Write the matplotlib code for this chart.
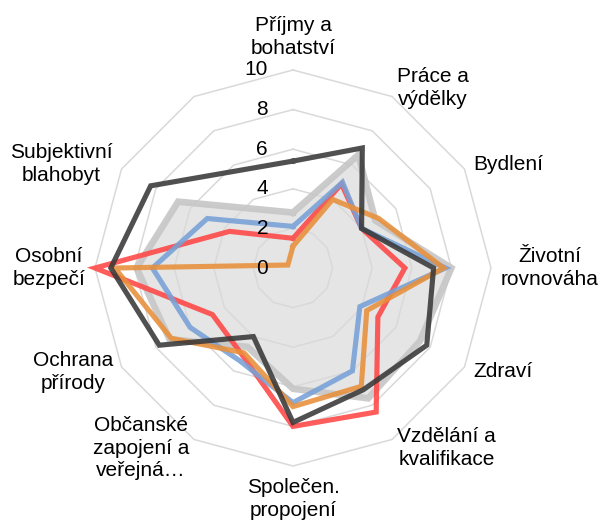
import numpy as np
import matplotlib
matplotlib.use("Agg")
import matplotlib.pyplot as plt
from matplotlib.transforms import ScaledTranslation

plt.rcParams['font.family'] = ['Liberation Sans', 'DejaVu Sans']

# 12 angular slots (Excel radar with one empty category at the end)
categories = ["Příjmy a\nbohatství", "Práce a\nvýdělky", "Bydlení", "Životní\nrovnováha",
              "Zdraví", "Vzdělání a\nkvalifikace", "Společen.\npropojení",
              "Občanské\nzapojení a\nveřejná…", "Ochrana\npřírody", "Osobní\nbezpečí",
              "Subjektivní\nblahobyt", ""]

gray_vals   = [2.8, 6.6, 4.8, 8.0, 7.4, 7.6, 6.1, 4.6, 7.2, 7.9, 6.7]
red_vals    = [1.5, 4.9, 4.0, 5.65, 4.95, 8.4, 8.0, 5.1, 4.7, 10.0, 3.7]
blue_vals   = [2.1, 5.0, 4.0, 7.7, 3.9, 6.0, 6.8, 5.4, 6.0, 7.1, 5.0]
orange_vals = [1.1, 4.0, 5.0, 7.6, 4.3, 6.9, 7.0, 4.95, 7.1, 9.0, 0.3]
black_vals  = [5.4, 7.0, 4.0, 7.1, 7.8, 7.1, 7.8, 4.0, 7.8, 9.2, 8.3]

ticks = [0, 2, 4, 6, 8, 10]

n_slots = len(categories)
slot_angles = np.arange(n_slots) * 2 * np.pi / n_slots

fig = plt.figure(figsize=(6.0, 5.23), dpi=100)
ax = fig.add_axes([95/600, 57/523, 396/600, 396/523], projection='polar')
ax.set_theta_zero_location('N')
ax.set_theta_direction(-1)
ax.set_ylim(0, 10)
ax.grid(False)
ax.spines['polar'].set_visible(False)
ax.set_xticks([])
ax.set_yticks([])
ax.patch.set_visible(False)

# polygon grid rings
ring_th = np.append(slot_angles, slot_angles[0])
for t in ticks[1:]:
    ax.plot(ring_th, [t] * len(ring_th), color='#d9d9d9', lw=1.1, zorder=2, clip_on=False)

def closed(vals):
    th = slot_angles[:len(vals)]
    return np.append(th, th[0]), np.append(vals, vals[0])

th, v = closed(gray_vals)
ax.fill(th, v, color='#e3e3e3', alpha=0.9, zorder=1, lw=0)
ax.plot(th, v, color='#c6c6c6', lw=4.8, alpha=0.9, zorder=3, clip_on=False, solid_joinstyle='miter')

series = [(red_vals, '#ff4545'), (blue_vals, '#77a0d6'), (orange_vals, '#e8903a'), (black_vals, '#383838')]
for i, (vals, col) in enumerate(series):
    th, v = closed(vals)
    ax.plot(th, v, color=col, lw=3.7, alpha=0.88, zorder=4 + i, clip_on=False, solid_joinstyle='miter')

# radial tick labels along the top axis
off = ScaledTranslation(-25/100, 0, fig.dpi_scale_trans)
for t in ticks:
    ax.text(0, t, str(t), transform=ax.transData + off, ha='right', va='center',
            fontsize=15, color='#000000', zorder=10)

# category labels
for ang, lab in zip(slot_angles, categories):
    if not lab:
        continue
    deg = np.degrees(ang)
    if np.isclose(deg, 0):
        ha, va, r = 'center', 'bottom', 10.6
    elif np.isclose(deg, 180):
        ha, va, r = 'center', 'top', 10.6
    elif deg < 180:
        ha, va, r = 'left', 'center', 10.5
    else:
        ha, va, r = 'right', 'center', 10.5
    ax.text(ang, r, lab, ha=ha, va=va, multialignment='center', fontsize=15,
            linespacing=1.25, color='#000000', zorder=10)

fig.savefig('out.png', dpi=100)
